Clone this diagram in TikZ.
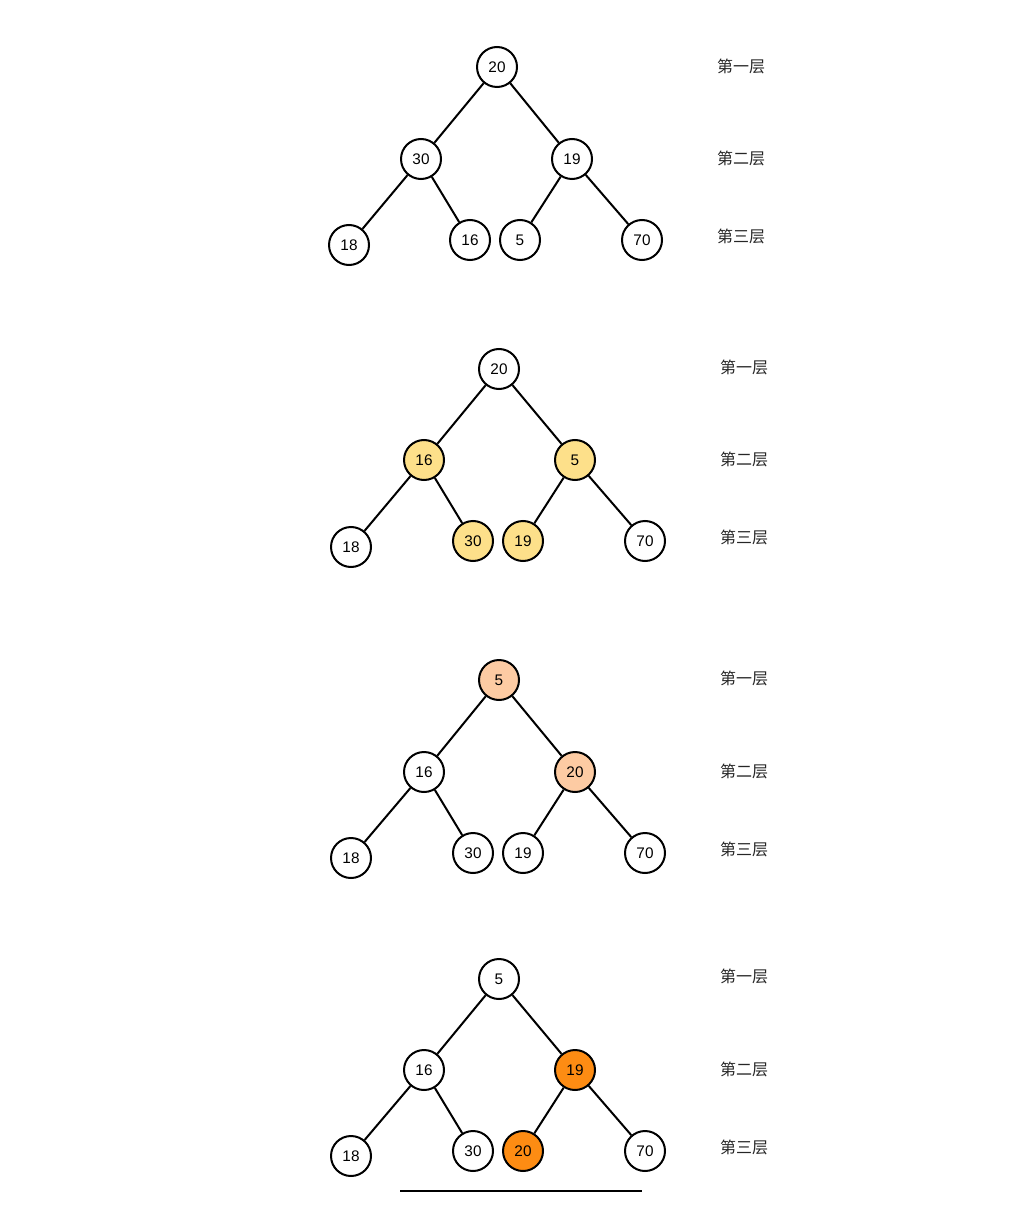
\documentclass[tikz,border=0pt]{standalone}
\usepackage{fontspec}
\setmainfont{Liberation Sans}
\newfontfamily\cjk{Noto Sans CJK SC}
\definecolor{hlyellow}{HTML}{FDE08A}
\definecolor{hlpeach}{HTML}{FDCBA3}
\definecolor{hlorange}{HTML}{FD8C13}
\begin{document}
\begin{tikzpicture}[x=0.75pt,y=-0.75pt,
  hn/.style={circle,draw=black,line width=1.5pt,minimum size=30pt,inner sep=0pt,fill=white,font=\fontsize{11.5}{13}\selectfont},
  edge/.style={line width=1.5pt,black},
  lvl/.style={font=\cjk\fontsize{12}{14}\selectfont,text=black!85,inner sep=0pt}]
\useasboundingbox[fill=white] (0,0) rectangle (1024,1230);

% ---------- tree 1 ----------
\node[hn] (a1) at (497,67) {20};
\node[hn] (a2) at (421,159) {30};
\node[hn] (a3) at (572,159) {19};
\node[hn] (a4) at (349,245) {18};
\node[hn] (a5) at (470,240) {16};
\node[hn] (a6) at (520,240) {5};
\node[hn] (a7) at (642,240) {70};
\draw[edge] (a1)--(a2); \draw[edge] (a1)--(a3);
\draw[edge] (a2)--(a4); \draw[edge] (a2)--(a5);
\draw[edge] (a3)--(a6); \draw[edge] (a3)--(a7);
\node[lvl] (la1) at (741,66) {第一层};
\node[lvl] (la2) at (741,158) {第二层};
\node[lvl] (la3) at (741,236) {第三层};

% ---------- tree 2 ----------
\node[hn] (b1) at (499,369) {20};
\node[hn,fill=hlyellow] (b2) at (424,460) {16};
\node[hn,fill=hlyellow] (b3) at (575,460) {5};
\node[hn] (b4) at (351,547) {18};
\node[hn,fill=hlyellow] (b5) at (473,541) {30};
\node[hn,fill=hlyellow] (b6) at (523,541) {19};
\node[hn] (b7) at (645,541) {70};
\draw[edge] (b1)--(b2); \draw[edge] (b1)--(b3);
\draw[edge] (b2)--(b4); \draw[edge] (b2)--(b5);
\draw[edge] (b3)--(b6); \draw[edge] (b3)--(b7);
\node[lvl] (lb1) at (744,367) {第一层};
\node[lvl] (lb2) at (744,459) {第二层};
\node[lvl] (lb3) at (744,537) {第三层};

% ---------- tree 3 ----------
\node[hn,fill=hlpeach] (c1) at (499,680) {5};
\node[hn] (c2) at (424,772) {16};
\node[hn,fill=hlpeach] (c3) at (575,772) {20};
\node[hn] (c4) at (351,858) {18};
\node[hn] (c5) at (473,853) {30};
\node[hn] (c6) at (523,853) {19};
\node[hn] (c7) at (645,853) {70};
\draw[edge] (c1)--(c2); \draw[edge] (c1)--(c3);
\draw[edge] (c2)--(c4); \draw[edge] (c2)--(c5);
\draw[edge] (c3)--(c6); \draw[edge] (c3)--(c7);
\node[lvl] (lc1) at (744,678) {第一层};
\node[lvl] (lc2) at (744,771) {第二层};
\node[lvl] (lc3) at (744,849) {第三层};

% ---------- tree 4 ----------
\node[hn] (d1) at (499,979) {5};
\node[hn] (d2) at (424,1070) {16};
\node[hn,fill=hlorange] (d3) at (575,1070) {19};
\node[hn] (d4) at (351,1156) {18};
\node[hn] (d5) at (473,1151) {30};
\node[hn,fill=hlorange] (d6) at (523,1151) {20};
\node[hn] (d7) at (645,1151) {70};
\draw[edge] (d1)--(d2); \draw[edge] (d1)--(d3);
\draw[edge] (d2)--(d4); \draw[edge] (d2)--(d5);
\draw[edge] (d3)--(d6); \draw[edge] (d3)--(d7);
\node[lvl] (ld1) at (744,976) {第一层};
\node[lvl] (ld2) at (744,1069) {第二层};
\node[lvl] (ld3) at (744,1147) {第三层};

\coordinate (ul) at (400,1191);
\coordinate (ur) at (642,1191);
\draw[edge] (ul)--(ur);
\end{tikzpicture}
\end{document}
